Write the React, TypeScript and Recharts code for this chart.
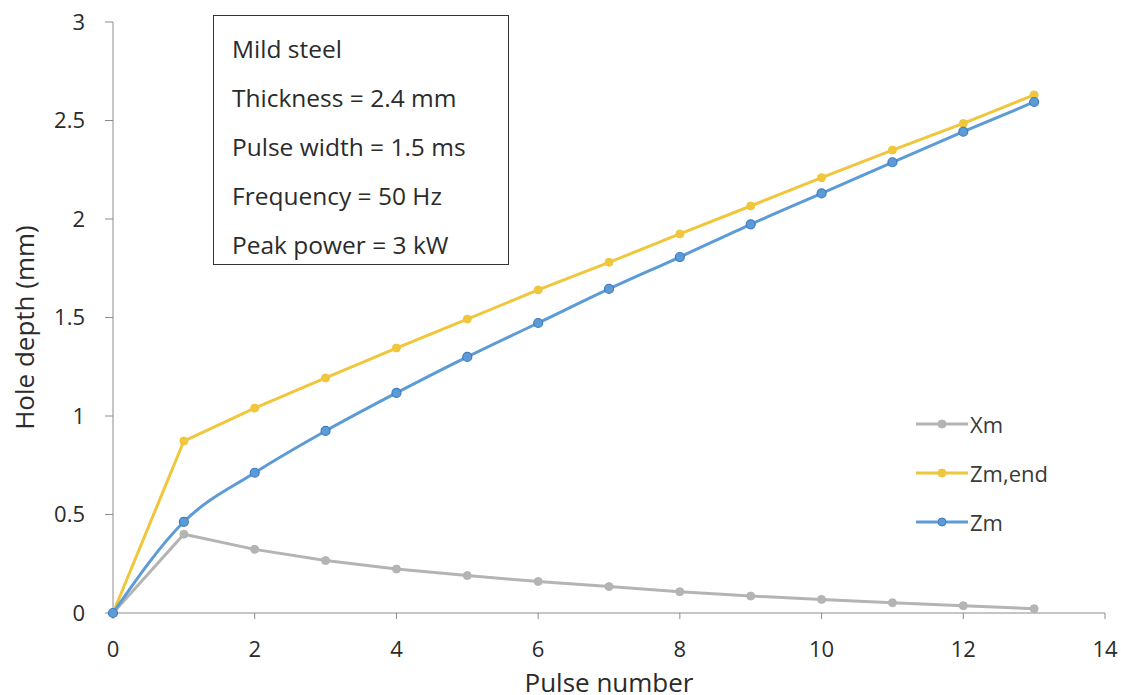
import React from 'react';
import { CartesianGrid, Legend, Line, LineChart, XAxis, YAxis } from 'recharts';

// Hole depth vs pulse number.
const pulses = [0, 1, 2, 3, 4, 5, 6, 7, 8, 9, 10, 11, 12, 13];
const xm = [0, 0.4, 0.323, 0.266, 0.223, 0.19, 0.16, 0.134, 0.108, 0.086, 0.069, 0.052, 0.037, 0.022];
const zmEnd = [0, 0.873, 1.04, 1.193, 1.345, 1.492, 1.64, 1.78, 1.924, 2.066, 2.21, 2.35, 2.485, 2.63];
const zm = [0, 0.463, 0.712, 0.924, 1.117, 1.3, 1.472, 1.645, 1.807, 1.973, 2.13, 2.288, 2.443, 2.594];

const xTicks = [0, 2, 4, 6, 8, 10, 12, 14];
const yTicks = [0, 0.5, 1, 1.5, 2, 2.5, 3];
const notes = ['Mild steel', 'Thickness = 2.4 mm', 'Pulse width = 1.5 ms', 'Frequency = 50 Hz', 'Peak power = 3 kW'];

const colores = {
  xm: '#b4b4b4',
  zmEnd: '#f0c63c',
  zm: '#5d9bd6',
  zmBorde: '#3f7cc2',
  eje: '#8c8c8c',
  tinta: '#2b2b2b',
};

const FUENTE = '"Open Sans", "Noto Sans", sans-serif';

const datos = pulses.map((p, i) => ({ p, xm: xm[i], zmEnd: zmEnd[i], zm: zm[i] }));

const series = [
  { key: 'xm', nombre: 'Xm', color: colores.xm, borde: colores.xm },
  { key: 'zmEnd', nombre: 'Zm,end', color: colores.zmEnd, borde: colores.zmEnd },
  { key: 'zm', nombre: 'Zm', color: colores.zm, borde: colores.zmBorde },
];

function EtiquetaY({ viewBox }: any) {
  const cx = 24;
  const cy = viewBox.y + viewBox.height / 2 + 10;
  return (
    <text
      x={cx}
      y={cy}
      transform={`rotate(-90 ${cx} ${cy})`}
      textAnchor="middle"
      dominantBaseline="central"
      fontSize={26}
      fill={colores.tinta}
      fontFamily={FUENTE}
    >
      Hole depth (mm)
    </text>
  );
}

function Leyenda() {
  return (
    <div style={{ fontFamily: FUENTE, fontSize: 22, color: '#3a3a3a' }}>
      {series.map((s) => (
        <div key={s.key} style={{ display: 'flex', alignItems: 'center', height: 49 }}>
          <svg width={54} height={12}>
            <line x1={0} y1={6} x2={52} y2={6} stroke={s.color} strokeWidth={3} />
            <circle cx={26} cy={6} r={4} fill={s.color} stroke={s.borde} strokeWidth={1} />
          </svg>
          <span>{s.nombre}</span>
        </div>
      ))}
    </div>
  );
}

export default function App() {
  return (
    <div style={{ position: 'absolute', left: 0, top: 0, width: 1121, height: 695, background: '#fff' }}>
      <LineChart width={1121} height={695} data={datos} margin={{ top: 22, right: 16, left: 0, bottom: 0 }}>
        <CartesianGrid stroke="none" />
        <XAxis
          dataKey="p"
          type="number"
          domain={[0, 14]}
          ticks={xTicks}
          height={82}
          tick={{ fill: colores.tinta, fontSize: 22, fontFamily: FUENTE }}
          tickSize={6}
          tickMargin={22}
          stroke={colores.eje}
          label={{
            value: 'Pulse number',
            position: 'insideBottom',
            offset: 3,
            fill: colores.tinta,
            fontSize: 26,
            fontFamily: FUENTE,
          }}
        />
        <YAxis
          type="number"
          domain={[0, 3]}
          ticks={yTicks}
          width={113}
          tick={{ fill: colores.tinta, fontSize: 22, fontFamily: FUENTE }}
          tickSize={8}
          tickMargin={20}
          stroke={colores.eje}
          label={<EtiquetaY />}
        />
        <Legend
          layout="vertical"
          align="center"
          verticalAlign="middle"
          wrapperStyle={{ left: 916, top: 399, width: 180 }}
          content={<Leyenda />}
        />
        <Line
          dataKey="xm"
          type="linear"
          stroke={colores.xm}
          strokeWidth={3}
          dot={{ r: 4, fill: colores.xm, stroke: colores.xm, strokeWidth: 1 }}
          isAnimationActive={false}
        />
        <Line
          dataKey="zmEnd"
          type="linear"
          stroke={colores.zmEnd}
          strokeWidth={3}
          dot={{ r: 4, fill: colores.zmEnd, stroke: colores.zmEnd, strokeWidth: 1 }}
          isAnimationActive={false}
        />
        <Line
          dataKey="zm"
          type="monotone"
          stroke={colores.zm}
          strokeWidth={3}
          dot={{ r: 4.5, fill: colores.zm, stroke: colores.zmBorde, strokeWidth: 1.2 }}
          isAnimationActive={false}
        />
      </LineChart>
      <div
        style={{
          position: 'absolute',
          left: 213,
          top: 15,
          width: 296,
          height: 250,
          border: '1.5px solid #333',
          boxSizing: 'border-box',
          fontFamily: FUENTE,
          fontSize: 24.5,
          color: colores.tinta,
          paddingLeft: 18,
          paddingTop: 16,
          background: '#fff',
        }}
      >
        {notes.map((n) => (
          <div key={n} style={{ height: 49, lineHeight: '33px', whiteSpace: 'nowrap' }}>
            {n}
          </div>
        ))}
      </div>
    </div>
  );
}
